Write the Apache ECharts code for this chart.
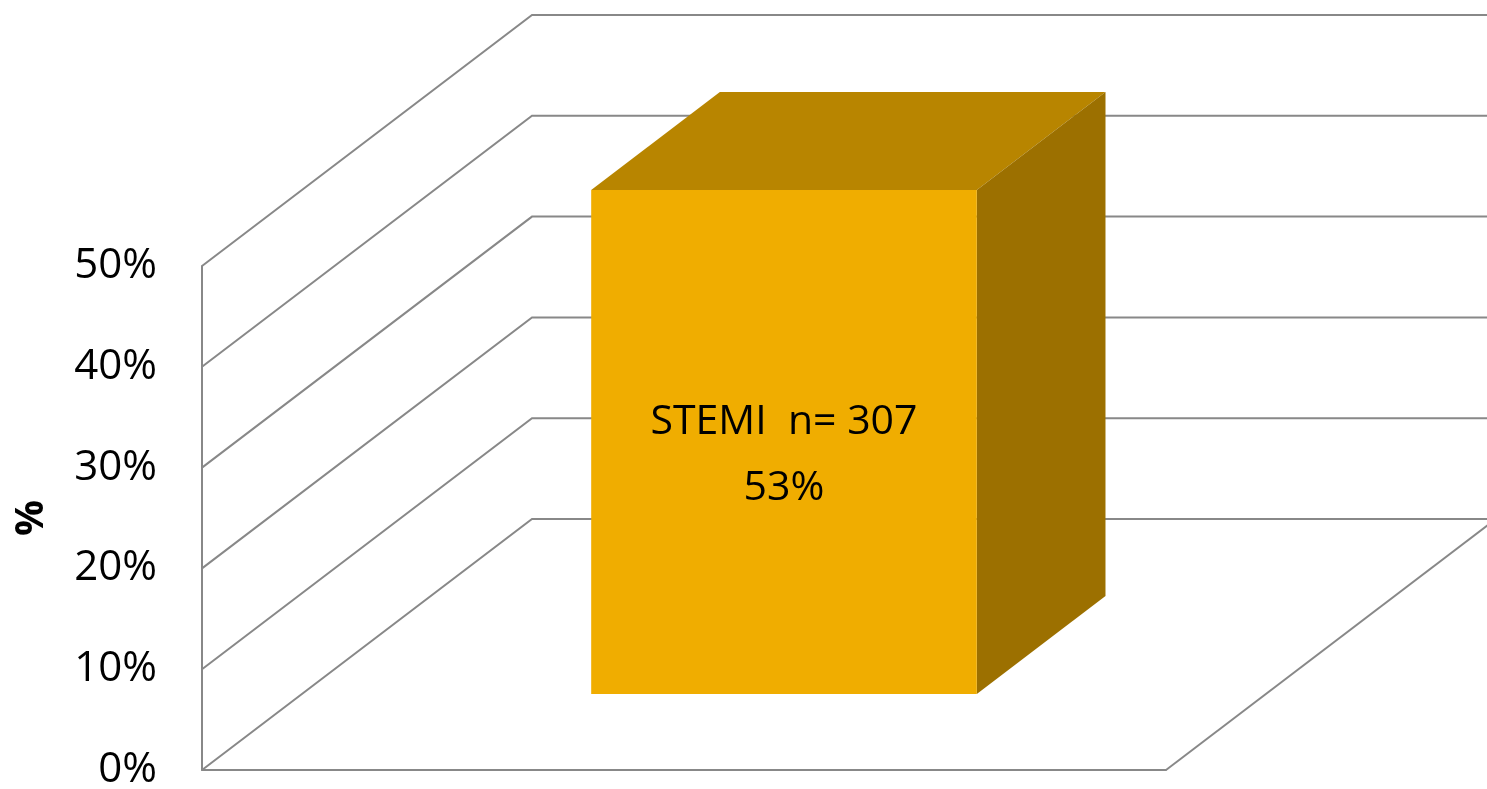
<!DOCTYPE html>
<html>
<head>
<meta charset="utf-8">
<script src="https://cdn.jsdelivr.net/npm/echarts@6/dist/echarts.min.js"></script>
<style>
  html, body { margin: 0; padding: 0; background: #ffffff; }
  #chart { width: 1487px; height: 789px; }
</style>
</head>
<body>
<div id="chart"></div>
<script>
// Chart data
const categories = ['STEMI'];
const counts = [307];
const shares = [53];           // percent of patients
const tickValues = [0, 10, 20, 30, 40, 50];
const yMax = 50;

// 3D look: depth vector of the walls and the slab the bar occupies
const DEPTH = [330, -251];
const BAR_DEPTH = [0.303, 0.693];
const BAR_WIDTH = 0.4;          // share of the category band

const FONT = '"Open Sans", "Noto Sans", sans-serif';
const GRID_COLOR = '#888888';

const chart = echarts.init(document.getElementById('chart'), null, { renderer: 'canvas' });

// Walls: left-wall diagonals and back-wall horizontals for every tick
function renderWalls(params, api) {
  const v = api.value(0);
  const cs = params.coordSys;
  const p = api.coord([categories[0], v]);
  const x0 = cs.x;
  const y0 = p[1];
  const bx = x0 + DEPTH[0], by = y0 + DEPTH[1];
  const children = [{
    type: 'polyline',
    shape: { points: [[x0, y0], [bx, by], [api.getWidth() + 10, by]] },
    style: { stroke: GRID_COLOR, lineWidth: 2, fill: null }
  }];
  if (v === 0) {
    // floor edge on the right side
    const rx = cs.x + cs.width;
    children.push({
      type: 'line',
      shape: { x1: rx, y1: y0, x2: rx + DEPTH[0], y2: y0 + DEPTH[1] },
      style: { stroke: GRID_COLOR, lineWidth: 2 }
    });
  }
  return { type: 'group', children };
}

// Box bar: front, top and right faces; values above the axis max are clipped
function renderBox(params, api) {
  const idx = params.dataIndex;
  const val = Math.min(api.value(1), yMax);
  const top = api.coord([api.value(0), val]);
  const base = api.coord([api.value(0), 0]);
  const band = api.size([1, 0])[0];
  const w = band * BAR_WIDTH;
  const d0x = DEPTH[0] * BAR_DEPTH[0], d0y = DEPTH[1] * BAR_DEPTH[0];
  const d1x = DEPTH[0] * BAR_DEPTH[1], d1y = DEPTH[1] * BAR_DEPTH[1];
  const L = top[0] - w / 2 + d0x, R = top[0] + w / 2 + d0x;
  const T = top[1] + d0y, B = base[1] + d0y;
  const dx = d1x - d0x, dy = d1y - d0y;
  return {
    type: 'group',
    children: [
      { type: 'polygon', shape: { points: [[L, T], [L + dx, T + dy], [R + dx, T + dy], [R, T]] },
        style: { fill: '#b88500' } },
      { type: 'polygon', shape: { points: [[R, T], [R + dx, T + dy], [R + dx, B + dy], [R, B]] },
        style: { fill: '#9c7000' } },
      { type: 'rect', shape: { x: L, y: T, width: R - L, height: B - T },
        style: { fill: '#f0ad00' } },
      { type: 'text', x: (L + R) / 2, y: (T + B) / 2 + 13,
        style: {
          text: categories[idx] + '  n= ' + counts[idx] + '\n' + shares[idx] + '%',
          fill: '#000000', font: '41px ' + FONT, align: 'center', verticalAlign: 'middle',
          lineHeight: 66
        } }
    ]
  };
}

chart.setOption({
  animation: false,
  backgroundColor: '#ffffff',
  grid: { left: 202, top: 266, width: 964, height: 504, outerBoundsMode: 'none', containLabel: false },
  xAxis: {
    type: 'category',
    data: categories,
    axisLine: { show: true, lineStyle: { color: GRID_COLOR, width: 2 } },
    axisTick: { show: false },
    axisLabel: { show: false },
    splitLine: { show: false }
  },
  yAxis: {
    type: 'value',
    min: 0, max: yMax, interval: 10,
    name: '%',
    nameLocation: 'middle',
    nameRotate: 90,
    nameGap: 150,
    nameTextStyle: { fontFamily: FONT, fontSize: 40, fontWeight: 'bold', color: '#000' },
    axisLine: { show: true, lineStyle: { color: GRID_COLOR, width: 2 } },
    axisTick: { show: false },
    splitLine: { show: false },
    axisLabel: {
      formatter: '{value}%', margin: 45,
      fontFamily: FONT, fontSize: 42, color: '#000'
    }
  },
  series: [
    {
      type: 'custom', name: 'walls', clip: false, silent: true, z: 1,
      renderItem: renderWalls,
      data: tickValues.map(v => [v])
    },
    {
      type: 'custom', name: 'share', clip: false, z: 5,
      renderItem: renderBox,
      data: categories.map((c, i) => [c, shares[i]])
    }
  ]
});
</script>
</body>
</html>
